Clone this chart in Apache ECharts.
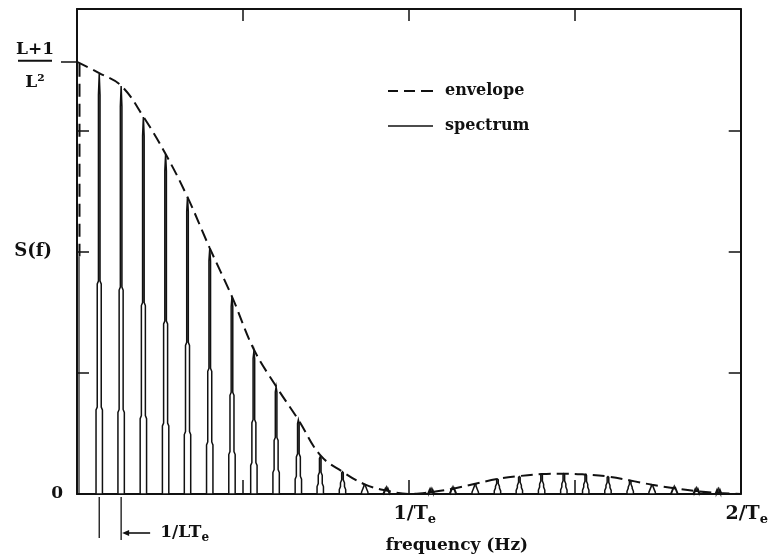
<!DOCTYPE html>
<html>
<head>
<meta charset="utf-8">
<script src="https://cdn.jsdelivr.net/npm/echarts@6/dist/echarts.min.js"></script>
<style>
  html, body { margin: 0; padding: 0; background: #fff; }
  #chart { width: 771px; height: 559px; }
</style>
</head>
<body>
<div id="chart"></div>
<script>
// Frequency axis is in units of 1/Te, level axis is normalised to the frame height.

// spectral lines at multiples of 1/(L*Te); the first one is the DC term
const spectrumFreq = [0, 0.067, 0.133, 0.2, 0.267, 0.333, 0.4, 0.467, 0.533, 0.6, 0.667,
  0.733, 0.8, 0.867, 0.933, 1.067, 1.133, 1.2, 1.267, 1.333, 1.4,
  1.467, 1.533, 1.6, 1.667, 1.733, 1.8, 1.867, 1.933];
const spectrumLevel = [0.891, 0.866, 0.841, 0.777, 0.701, 0.613, 0.506, 0.407, 0.294, 0.221, 0.153,
  0.077, 0.046, 0.020, 0.009, 0.004, 0.010, 0.020, 0.031, 0.036, 0.041,
  0.042, 0.040, 0.036, 0.028, 0.019, 0.012, 0.006, 0.002];

// envelope of the line spectrum
const envelopeFreq = [0, 0.067, 0.133, 0.2, 0.267, 0.333, 0.4, 0.467, 0.533, 0.6, 0.667,
  0.733, 0.8, 0.867, 0.933, 1.0, 1.067, 1.133, 1.2, 1.267, 1.333, 1.4,
  1.467, 1.533, 1.6, 1.667, 1.733, 1.8, 1.867, 1.933, 2.0];
const envelopeLevel = [0.891, 0.868, 0.842, 0.778, 0.701, 0.612, 0.507, 0.407, 0.298, 0.222, 0.153,
  0.080, 0.046, 0.020, 0.007, 0.0, 0.004, 0.011, 0.021, 0.031, 0.037, 0.041,
  0.042, 0.040, 0.036, 0.028, 0.019, 0.012, 0.006, 0.002, 0.0];

// labelled positions
const freqTickValues = [1, 2];
const freqTickLabels = ['1/T{s|e}', '2/T{s|e}'];
const freqMinorTicks = [0.5, 1, 1.5];
const levelMinorTicks = [0.25, 0.5, 0.75];
const peakLevel = 0.891;                // (L+1)/L^2
const lineSpacingPair = [0.067, 0.133]; // two neighbouring lines, 1/(L*Te) apart

const FONT = 'DejaVu Serif';
const INK = '#111';

const spectrumData = spectrumFreq.map((f, i) => [f, spectrumLevel[i]]);
const envelopeData = envelopeFreq.map((f, i) => [f, envelopeLevel[i]]);

// each spectral line: a narrow outlined spike that widens towards its foot;
// the DC term runs up the level axis as a broken stroke
function renderLine(params, api) {
  const x = api.value(0), v = api.value(1);
  const b = api.coord([x, 0]);
  const t = api.coord([x, v]);
  const H = b[1] - t[1];
  const cx = b[0], y0 = b[1];
  if (x === 0) {
    return {
      type: 'group',
      children: [
        { type: 'line', shape: { x1: cx + 2.5, y1: t[1] + 2, x2: cx + 2.5, y2: y0 - 0.55 * H },
          style: { stroke: INK, lineWidth: 2, lineDash: [13, 7] } },
        { type: 'line', shape: { x1: cx + 2, y1: y0 - 0.55 * H, x2: cx + 2, y2: y0 },
          style: { stroke: INK, lineWidth: 1.2 } }
      ]
    };
  }
  const pts = [
    [cx - 3.2, y0], [cx - 3.2, y0 - 0.2 * H], [cx - 2, y0 - 0.2 * H - 3],
    [cx - 2, y0 - 0.5 * H], [cx - 0.8, y0 - 0.5 * H - 3], [cx - 0.8, y0 - 0.95 * H],
    [cx, y0 - H],
    [cx + 0.8, y0 - 0.95 * H], [cx + 0.8, y0 - 0.5 * H - 3], [cx + 2, y0 - 0.5 * H],
    [cx + 2, y0 - 0.2 * H - 3], [cx + 3.2, y0 - 0.2 * H], [cx + 3.2, y0]
  ];
  return {
    type: 'polygon',
    shape: { points: pts },
    style: { fill: '#fff', stroke: INK, lineWidth: 1.5 }
  };
}

// the 1/(L*Te) spacing marker below the axis
function renderSpacing(params, api) {
  const a = api.coord([api.value(0), 0]);
  const b = api.coord([api.value(1), 0]);
  const y0 = a[1];
  const ya = y0 + 39;
  return {
    type: 'group',
    children: [
      { type: 'line', shape: { x1: a[0], y1: y0 + 3, x2: a[0], y2: y0 + 44 }, style: { stroke: INK, lineWidth: 1.3 } },
      { type: 'line', shape: { x1: b[0], y1: y0 + 3, x2: b[0], y2: y0 + 46 }, style: { stroke: INK, lineWidth: 1.3 } },
      { type: 'line', shape: { x1: b[0] + 4, y1: ya, x2: b[0] + 29, y2: ya }, style: { stroke: INK, lineWidth: 1.6 } },
      { type: 'polygon', shape: { points: [[b[0] + 1, ya], [b[0] + 8, ya - 3], [b[0] + 8, ya + 3]] }, style: { fill: INK } },
      { type: 'text', x: b[0] + 39, y: ya, style: {
          text: '1/LT{s|e}', font: 'bold 17px ' + FONT, fill: INK, verticalAlign: 'middle', align: 'left',
          rich: { s: { fontSize: 12, fontWeight: 'bold', fontFamily: FONT, fill: INK, padding: [9, 0, 0, 0] } }
        } }
    ]
  };
}

const chart = echarts.init(document.getElementById('chart'), null, { renderer: 'canvas' });

const axisLine = { show: true, onZero: false, lineStyle: { color: INK, width: 2 } };

chart.setOption({
  animation: false,
  backgroundColor: '#fff',
  grid: { left: 77, right: 30, top: 9, bottom: 65 },
  legend: {
    orient: 'vertical',
    left: 388, top: 83,
    itemWidth: 45, itemHeight: 14, itemGap: 19,
    padding: 0,
    textStyle: { fontFamily: FONT, fontSize: 16, fontWeight: 'bold', color: INK, padding: [0, 0, 0, 7] },
    data: [
      { name: 'envelope', icon: 'path://M0,0H10V1.8H0Z M16,0H27V1.8H16Z M33,0H45V1.8H33Z' },
      { name: 'spectrum', icon: 'path://M0,0H45V1.6H0Z' }
    ]
  },
  xAxis: [
    {
      type: 'value', position: 'bottom', min: 0, max: 2, interval: 0.5,
      axisLine, splitLine: { show: false },
      axisTick: { show: true, inside: true, length: 14, customValues: freqMinorTicks, lineStyle: { color: INK, width: 1.5 } },
      axisLabel: {
        customValues: freqTickValues,
        formatter: v => freqTickLabels[freqTickValues.indexOf(v)],
        margin: 9, padding: [0, 0, 0, 12],
        fontFamily: FONT, fontSize: 19, fontWeight: 'bold', color: INK,
        rich: { s: { fontFamily: FONT, fontSize: 13, fontWeight: 'bold', color: INK, padding: [10, 0, 0, 0] } }
      },
      name: 'frequency (Hz)', nameLocation: 'middle', nameGap: 43,
      nameTextStyle: { fontFamily: FONT, fontSize: 17, fontWeight: 'bold', color: INK, padding: [0, 0, 0, 96] }
    },
    {
      type: 'value', position: 'top', min: 0, max: 2, interval: 0.5,
      axisLine, splitLine: { show: false },
      axisTick: { show: true, inside: true, length: 12, customValues: freqMinorTicks, lineStyle: { color: INK, width: 1.5 } },
      axisLabel: { show: false }
    }
  ],
  yAxis: [
    {
      type: 'value', position: 'left', min: 0, max: 1, interval: 0.25,
      axisLine, splitLine: { show: false },
      axisTick: { show: true, inside: true, length: 12, customValues: levelMinorTicks, lineStyle: { color: INK, width: 1.5 } },
      axisLabel: {
        customValues: [0], formatter: () => '0', margin: 14,
        fontFamily: FONT, fontSize: 17, fontWeight: 'bold', color: INK
      },
      name: 'S(f)', nameLocation: 'middle', nameRotate: 0, nameGap: 25, nameMoveOverlap: false,
      nameTextStyle: { fontFamily: FONT, fontSize: 18, fontWeight: 'bold', color: INK }
    },
    {
      type: 'value', position: 'left', min: 0, max: 1,
      axisLine: { show: false }, splitLine: { show: false },
      axisTick: { show: true, inside: false, length: 16, customValues: [peakLevel], lineStyle: { color: INK, width: 1.5 } },
      axisLabel: {
        customValues: [peakLevel], margin: 42, align: 'center',
        padding: [20, 0, 0, 0],
        formatter: () => '{n|L+1}\n{bar| }\n{d|L²}',
        rich: {
          n: { fontFamily: FONT, fontSize: 17, fontWeight: 'bold', color: INK, lineHeight: 18, align: 'center' },
          bar: { width: 34, height: 2, lineHeight: 4, backgroundColor: INK, fontSize: 2, align: 'center' },
          d: { fontFamily: FONT, fontSize: 17, fontWeight: 'bold', color: INK, lineHeight: 40, align: 'center' }
        }
      }
    },
    {
      type: 'value', position: 'right', min: 0, max: 1, interval: 0.25,
      axisLine, splitLine: { show: false },
      axisTick: { show: true, inside: true, length: 12, customValues: levelMinorTicks, lineStyle: { color: INK, width: 1.5 } },
      axisLabel: { show: false }
    }
  ],
  series: [
    {
      name: 'envelope', type: 'line', data: envelopeData,
      smooth: 0.4, symbol: 'none', z: 3,
      lineStyle: { color: INK, width: 2, type: [12, 6] },
      itemStyle: { color: INK }
    },
    {
      name: 'spectrum', type: 'custom', data: spectrumData,
      renderItem: renderLine, z: 2,
      itemStyle: { color: INK }
    },
    {
      name: 'line spacing', type: 'custom', data: [lineSpacingPair],
      renderItem: renderSpacing, clip: false, silent: true, z: 2
    }
  ]
});
</script>
</body>
</html>
